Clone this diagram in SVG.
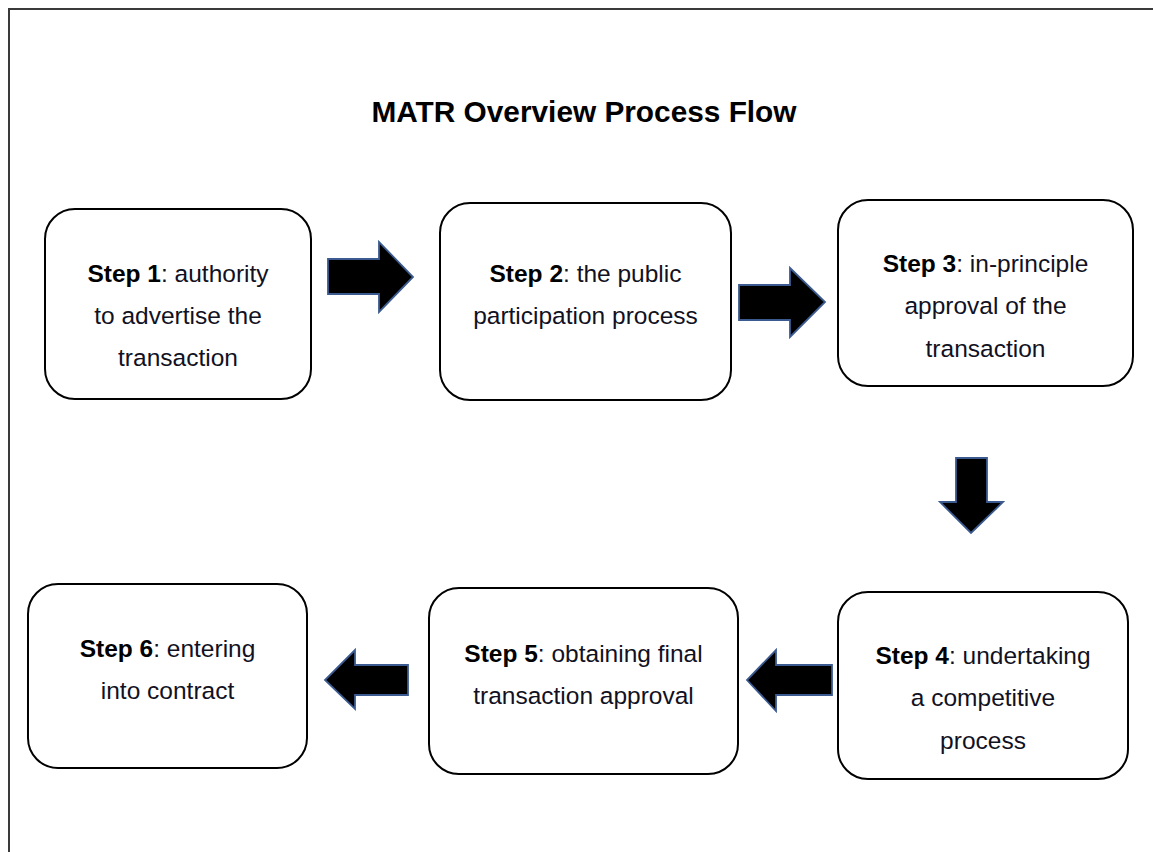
<svg xmlns="http://www.w3.org/2000/svg" width="1153" height="852" viewBox="0 0 1153 852">
  <style>
    .page { fill: none; stroke: #3a3a3a; stroke-width: 2; }
    .box { fill: #ffffff; stroke: #000000; stroke-width: 2; }
    .label { font-family: "Liberation Sans", Arial, sans-serif; font-size: 24.5px; fill: #111122; text-anchor: middle; }
    .label tspan.b { font-weight: bold; fill: #000000; }
    .title { font-family: "Liberation Sans", Arial, sans-serif; font-size: 29.8px; font-weight: bold; fill: #000000; text-anchor: middle; }
    .arrow { fill: #000000; stroke: #3b5a8f; stroke-width: 1.8; stroke-linejoin: miter; }
  </style>

  <rect x="0" y="0" width="1153" height="852" fill="#ffffff"/>
  <!-- page frame: top and left edges -->
  <path class="page" d="M9,852 V9 H1153"/>

  <text class="title" x="584" y="122">MATR Overview Process Flow</text>

  <g id="step1">
    <rect class="box" x="45" y="209" width="266" height="190" rx="30"/>
    <text class="label" x="178" y="282"><tspan class="b">Step 1</tspan>: authority</text>
    <text class="label" x="178" y="324">to advertise the</text>
    <text class="label" x="178" y="366">transaction</text>
  </g>

  <g id="step2">
    <rect class="box" x="440" y="203" width="291" height="197" rx="30"/>
    <text class="label" x="585.5" y="282"><tspan class="b">Step 2</tspan>: the public</text>
    <text class="label" x="585.5" y="324">participation process</text>
  </g>

  <g id="step3">
    <rect class="box" x="838" y="200" width="295" height="186" rx="30"/>
    <text class="label" x="985.5" y="272"><tspan class="b">Step 3</tspan>: in-principle</text>
    <text class="label" x="985.5" y="314">approval of the</text>
    <text class="label" x="985.5" y="357">transaction</text>
  </g>

  <g id="step4">
    <rect class="box" x="838" y="592" width="290" height="187" rx="30"/>
    <text class="label" x="983" y="664"><tspan class="b">Step 4</tspan>: undertaking</text>
    <text class="label" x="983" y="706">a competitive</text>
    <text class="label" x="983" y="749">process</text>
  </g>

  <g id="step5">
    <rect class="box" x="429" y="588" width="309" height="186" rx="30"/>
    <text class="label" x="583.5" y="662"><tspan class="b">Step 5</tspan>: obtaining final</text>
    <text class="label" x="583.5" y="704">transaction approval</text>
  </g>

  <g id="step6">
    <rect class="box" x="28" y="584" width="279" height="184" rx="30"/>
    <text class="label" x="167.5" y="657"><tspan class="b">Step 6</tspan>: entering</text>
    <text class="label" x="167.5" y="699">into contract</text>
  </g>

  <g id="connectors">
    <!-- 1 to 2 -->
    <polygon class="arrow" points="328,259 379,259 379,242 413,277 379,312 379,294 328,294"/>
    <!-- 2 to 3 -->
    <polygon class="arrow" points="739,285 790,285 790,268 825,302 790,337 790,320 739,320"/>
    <!-- 3 to 4 -->
    <polygon class="arrow" points="956,458 987,458 987,502 1003,502 971,533 940,502 956,502"/>
    <!-- 4 to 5 -->
    <polygon class="arrow" points="832,665 776,665 776,650 747,680 776,711 776,695 832,695"/>
    <!-- 5 to 6 -->
    <polygon class="arrow" points="408,665 355,665 355,650 325,680 355,709 355,695 408,695"/>
  </g>
</svg>
